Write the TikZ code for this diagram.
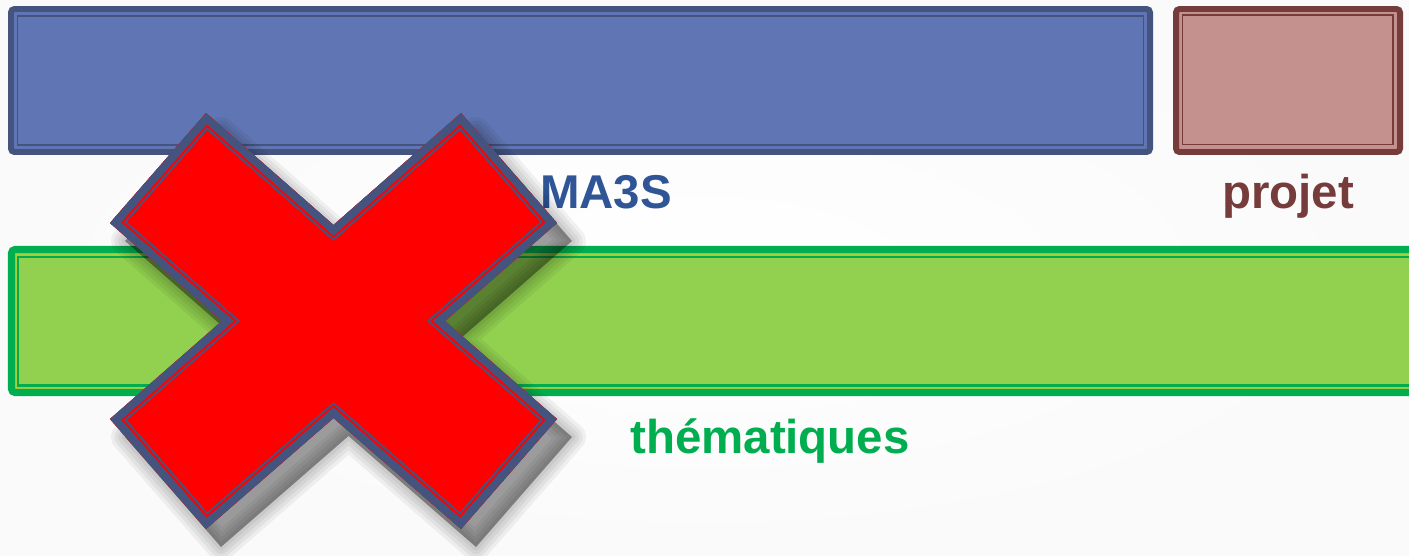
\documentclass[tikz,border=0pt]{standalone}
\usepackage{fontspec}
\setmainfont{Liberation Sans}
\definecolor{bleufond}{RGB}{96,118,180}
\definecolor{bleubord}{RGB}{68,84,127}
\definecolor{bleutexte}{RGB}{47,85,151}
\definecolor{rosefond}{RGB}{196,145,143}
\definecolor{rosebord}{RGB}{118,60,60}
\definecolor{vertfond}{RGB}{146,208,80}
\definecolor{vertbord}{RGB}{0,174,79}
\definecolor{vertjaune}{RGB}{170,205,60}
\definecolor{croixrouge}{RGB}{255,0,0}
\tikzset{
	titre/.style={font=\fontsize{27}{32}\selectfont\bfseries, anchor=base},
	cadre/.style={line width=3.4pt, rounded corners=2pt},
	filet/.style={line width=1.1pt},
}
\def\croix{(206,113) -- (110,223) -- (222,321) -- (110,419) -- (206,529) -- (333.5,418) -- (461,529) -- (557,419) -- (445,321) -- (557,223) -- (461,113) -- (333.5,225) -- cycle}
\begin{document}
\begin{tikzpicture}[x=0.02cm,y=-0.02cm]
	\useasboundingbox (0,0) rectangle (1409,555);
	\shade[inner color=white, outer color=black!2] (0,0) rectangle (1409,555);
	% bandeaux
	\draw[cadre, draw=bleubord, fill=bleufond] (11,9) rectangle (1150,152);
	\draw[filet, draw=bleubord] (17.5,16) rectangle (1143.5,145);
	\draw[cadre, draw=rosebord, fill=rosefond] (1176,9) rectangle (1400,152);
	\draw[filet, draw=rosebord] (1182.5,15) rectangle (1393,144.5);
	\draw[cadre, line width=4pt, draw=vertbord, fill=vertjaune] (11.5,249.5) rectangle (1430,392.5);
	\draw[line width=1.4pt, draw=vertbord, fill=vertfond] (18,256.75) rectangle (1430,385.5);
	% titres
	\node[titre, text=bleutexte] (ma3s) at (606,208) {MA3S};
	\node[titre, text=rosebord] (projet) at (1288,208) {projet};
	\node[titre, text=vertbord] (thema) at (770,453) {thématiques};
	% ombre de la croix
	\begin{scope}[shift={(15,18)}]
		\fill[black, opacity=.38] \croix;
		\foreach \w in {4,8,12,16}
			\draw[black, opacity=.05, line width=\w pt, line join=round] \croix;
	\end{scope}
	% croix
	\fill[croixrouge] \croix;
	\begin{scope}
		\clip \croix;
		\draw[bleubord, line width=13.6pt] \croix;
		\draw[croixrouge, line width=11.3pt] \croix;
		\draw[bleubord, line width=9.1pt] \croix;
	\end{scope}
\end{tikzpicture}
\end{document}
